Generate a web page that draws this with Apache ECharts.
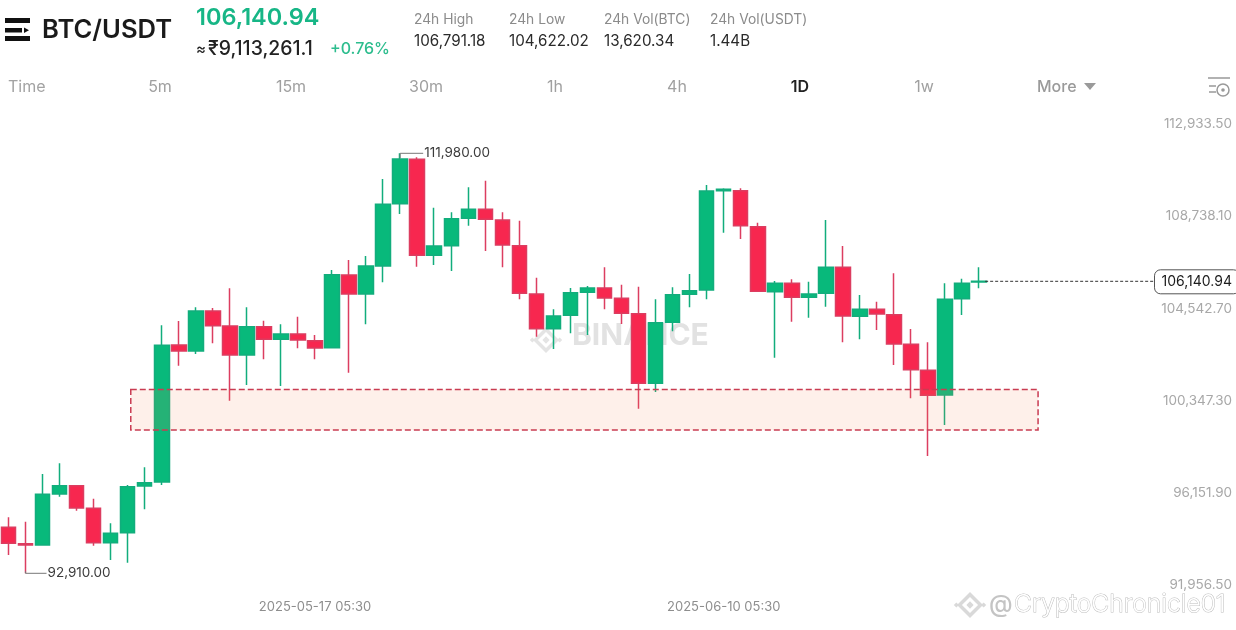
<!DOCTYPE html>
<html><head><meta charset="utf-8">
<script src="https://cdn.jsdelivr.net/npm/echarts@6/dist/echarts.min.js"></script>
<style>html,body{margin:0;padding:0;background:#fff}#c{width:1236px;height:630px}</style>
</head><body><div id="c"></div>
<script>
const days = ['2025-04-29','2025-04-30','2025-05-01','2025-05-02','2025-05-03','2025-05-04','2025-05-05','2025-05-06','2025-05-07','2025-05-08','2025-05-09','2025-05-10','2025-05-11','2025-05-12','2025-05-13','2025-05-14','2025-05-15','2025-05-16','2025-05-17','2025-05-18','2025-05-19','2025-05-20','2025-05-21','2025-05-22','2025-05-23','2025-05-24','2025-05-25','2025-05-26','2025-05-27','2025-05-28','2025-05-29','2025-05-30','2025-05-31','2025-06-01','2025-06-02','2025-06-03','2025-06-04','2025-06-05','2025-06-06','2025-06-07','2025-06-08','2025-06-09','2025-06-10','2025-06-11','2025-06-12','2025-06-13','2025-06-14','2025-06-15','2025-06-16','2025-06-17','2025-06-18','2025-06-19','2025-06-20','2025-06-21','2025-06-22','2025-06-23','2025-06-24','2025-06-25'];
const futureSlots = [' ',' ',' ',' ',' ',' ',' ',' ',' ',' ',' ',' ',' ',' '];
const dateLabelIndexes = [18, 42];
// [open, close, low, high]
const ohlc = [
[94596,93868,93336,95050],[93850,93791,92504,94850],[93791,96096,93791,97019],[96110,96487,95987,97506],
[96487,95473,95351,96519],[95460,93895,93759,95896],[93895,94323,93109,94778],[94350,96442,92986,96519],
[96474,96624,95414,97324],[96655,102871,96519,103781],[102885,102612,101944,103976],[102612,104431,102476,104599],
[104431,103762,102962,104567],[103749,102430,100352,105463],[102430,103717,101066,104599],[103717,103144,102235,103990],
[103144,103385,101021,103826],[103385,103112,102735,104172],[103080,102748,102235,103340],[102762,106081,102762,106295],
[106068,105204,101625,106750],[105204,106477,103826,106932],[106477,109282,105736,110433],[109310,111342,108841,111601],
[111329,106964,106445,111420],[106964,107386,106522,109128],[107400,108628,106250,108919],[108646,109055,108310,110055],
[109055,108600,107159,110356],[108569,107432,106418,108919],[107400,105236,104963,108537],[105204,103626,103262,105945],
[103626,104203,102703,104508],[104235,105263,103417,105477],[105281,105477,103340,105568],[105477,105022,104508,106418],
[105008,104326,103840,105627],[104308,101143,99989,105536],[101143,103899,100748,104963],[103917,105172,103508,105508],
[105190,105354,104599,106113],[105386,109887,104963,110160],[109901,109965,107991,110010],[109901,108310,107705,110010],
[108264,105327,105327,108446],[105308,105690,102307,105795],[105690,105054,103944,105872],[105054,105204,104126,105763],
[105236,106418,104626,108569],[106418,104203,103008,107386],[104190,104508,103144,105158],[104508,104294,103567,104854],
[104262,102930,101975,106145],[102916,101762,100461,103612],[101734,100598,97838,103008],[100611,104963,99247,105690],
[104990,105690,104249,105900],[105749,105781,105463,106418]
];
const yTicks = [91956.5, 96151.9, 100347.3, 104542.7, 108738.1, 112933.5];
const extremes = [[23, 111601], [1, 92504]];
const extremeLabels = ['111,980.00', '92,910.00'];
const extremeLeader = [23, 21];
const zone = [[7.18, 60.46, 100861, 99020]];
const lastPrice = [[57, 105781]];
const lastPriceLabel = '106,140.94';
const statLabels = ['24h High', '24h Low', '24h Vol(BTC)', '24h Vol(USDT)'];
const statValues = ['106,791.18', '104,622.02', '13,620.34', '1.44B'];
const tabs = ['5m', '15m', '30m', '1h', '4h', '1D', '1w'];

const FONT = 'Inter, "Noto Sans", sans-serif';
const RED = '#f7274f', GREEN = '#08b97b', WICK_R = '#dc3d60', WICK_G = '#12ad7c';
const chart = echarts.init(document.getElementById('c'), null, {renderer: 'canvas'});

function txt(x, y, text, size, fill, weight, align, extra) {
  return Object.assign({type: 'text', x, y, silent: true, style: {text, font: (weight || 400) + ' ' + size + 'px ' + FONT, fill, align: align || 'left', verticalAlign: 'middle'}}, extra || {});
}
function rect(x, y, w, h, fill) { return {type: 'rect', shape: {x, y, width: w, height: h}, style: {fill}, silent: true}; }
function poly(points, fill) { return {type: 'polygon', shape: {points}, style: {fill}, silent: true}; }
function diamond(cx, cy, r, fill) { return poly([[cx, cy - r], [cx + r, cy], [cx, cy + r], [cx - r, cy]], fill); }
function logo(cx, cy, s, fill) {
  const hole = '#fff';
  return [diamond(cx, cy, s, fill), diamond(cx, cy, s * 0.62, hole), diamond(cx, cy, s * 0.28, fill),
    diamond(cx - s * 1.05, cy, s * 0.2, fill), diamond(cx + s * 1.05, cy, s * 0.2, fill)];
}

const header = [
  rect(5, 18, 25, 5, '#111'), rect(5, 28, 17, 4.5, '#111'), rect(5, 36, 25, 5, '#111'),
  poly([[24, 27.5], [29, 30.2], [24, 33]], '#111'),
  txt(42, 30, 'BTC/USDT', 25.6, '#1a1a1a', 600),
  txt(196, 18, '106,140.94', 23.5, '#17b686', 600),
  txt(196, 49, '≈', 15, '#222', 500),
  txt(208, 49, '₹9,113,261.1', 19.4, '#222', 500),
  txt(330, 49, '+0.76%', 16, '#2dbd8e', 500),
  txt(8, 87, 'Time', 16, '#a3a3a3', 400),
  txt(1037, 87, 'More', 16, '#9a9a9a', 500),
  poly([[1084, 83], [1096, 83], [1090, 90]], '#9a9a9a'),
  {type: 'line', shape: {x1: 1208, y1: 78, x2: 1230, y2: 78}, style: {stroke: '#999', lineWidth: 1.5}, silent: true},
  {type: 'line', shape: {x1: 1209, y1: 86, x2: 1216, y2: 86}, style: {stroke: '#999', lineWidth: 1.5}, silent: true},
  {type: 'line', shape: {x1: 1209, y1: 92, x2: 1216, y2: 92}, style: {stroke: '#999', lineWidth: 1.5}, silent: true},
  {type: 'circle', shape: {cx: 1223, cy: 90, r: 6}, style: {fill: '#fff', stroke: '#999', lineWidth: 1.5}, silent: true},
  {type: 'circle', shape: {cx: 1223, cy: 90, r: 1.8}, style: {fill: '#999'}, silent: true}
];
const statX = [414, 509, 604, 710];
statLabels.forEach((t, i) => {
  header.push(txt(statX[i], 20, t, 13.8, '#8b8b8b', 400));
  header.push(txt(statX[i], 41, statValues[i], 15.2, '#2a2a2a', 400));
});
const tabX = [160, 291, 426, 555, 677, 800, 924];
tabs.forEach((t, i) => {
  const on = t === '1D';
  header.push(txt(tabX[i], 87, t, 16, on ? '#222' : '#a0a0a0', on ? 600 : 400, 'center'));
});
const watermarks = [
  ...logo(546, 340, 13, '#e4e4e4'),
  txt(572, 336, 'BINANCE', 30, '#e2e2e2', 700),
  ...logo(970, 605, 13, '#d9d9d9'),
  txt(989, 605, '@', 24, '#c4c4c4', 500),
  txt(1014, 605, 'CryptoChronicle01', 24.6, '#fff', 300, 'left', {style: {text: 'CryptoChronicle01', font: '300 24.6px ' + FONT, fill: '#fff', stroke: '#bdbdbd', lineWidth: 1, align: 'left', verticalAlign: 'middle'}})
];

chart.setOption({
  animation: false,
  backgroundColor: '#fff',
  textStyle: {fontFamily: FONT},
  graphic: {elements: [...watermarks, ...header].map(e => Object.assign({z: 0}, e))},
  grid: {left: -0.82, top: 100.55, width: 1226.88, height: 497.03},
  xAxis: {
    type: 'category',
    data: days.map(d => d + ' 05:30').concat(futureSlots),
    boundaryGap: true,
    axisLine: {show: false}, axisTick: {show: false}, splitLine: {show: false},
    axisLabel: {interval: (i) => dateLabelIndexes.includes(i), color: '#8e8e8e', fontSize: 13, margin: 3, hideOverlap: false}
  },
  yAxis: {
    type: 'value', position: 'right', min: 91400, max: 114000, scale: true,
    axisLine: {show: false}, axisTick: {show: false}, splitLine: {show: false},
    axisLabel: {
      inside: true, margin: -6, customValues: yTicks, color: '#a8a8a8', fontSize: 13.5, padding: [5, 0, 0, 0],
      formatter: v => v.toLocaleString('en-US', {minimumFractionDigits: 2, maximumFractionDigits: 2})
    }
  },
  series: [
    {
      type: 'candlestick', z: 3, data: ohlc, barWidth: 15,
      itemStyle: {color: GREEN, color0: RED, borderColor: WICK_G, borderColor0: WICK_R, borderWidth: 1.5}
    },
    {
      type: 'custom', z: 4, silent: true, data: zone, encode: {x: 0, y: 2},
      renderItem(params, api) {
        const from = api.value(0), to = api.value(1);
        const band = api.size([1, 0])[0];
        const a = api.coord([Math.floor(from), api.value(2)]);
        const b = api.coord([Math.floor(to), api.value(3)]);
        const x0 = a[0] + (from - Math.floor(from)) * band, x1 = b[0] + (to - Math.floor(to)) * band;
        return {type: 'rect', shape: {x: x0, y: a[1], width: x1 - x0, height: b[1] - a[1]},
          style: {fill: 'rgba(248,135,80,0.12)', stroke: '#c93c52', lineWidth: 1.5, lineDash: [6, 3]}};
      }
    },
    {
      type: 'custom', z: 5, silent: true, data: extremes, encode: {x: 0, y: 1},
      renderItem(params, api) {
        const i = params.dataIndex;
        const p = api.coord([api.value(0), api.value(1)]);
        const len = extremeLeader[i];
        return {type: 'group', children: [
          {type: 'polyline', shape: {points: [[p[0], p[1] + (i === 0 ? 5 : -2)], [p[0], p[1]], [p[0] + len, p[1]]]}, style: {stroke: '#777', lineWidth: 1, fill: 'none'}},
          {type: 'text', x: p[0] + len + 1, y: p[1], style: {text: extremeLabels[i], font: '400 13.5px ' + FONT, fill: '#3c3c3c', align: 'left', verticalAlign: 'middle'}}
        ]};
      }
    },
    {
      type: 'custom', z: 5, silent: true, data: lastPrice, encode: {x: 0, y: 1},
      renderItem(params, api) {
        const p = api.coord([api.value(0), api.value(1)]);
        return {type: 'group', children: [
          {type: 'line', shape: {x1: p[0] + 6, y1: p[1], x2: 1154, y2: p[1]}, style: {stroke: '#333', lineWidth: 1, lineDash: [3, 2]}},
          {type: 'rect', shape: {x: 1154.5, y: p[1] - 11.5, width: 85, height: 24, r: 6}, style: {fill: '#fff', stroke: '#555', lineWidth: 1}},
          {type: 'text', x: 1232, y: p[1] + 0.5, style: {text: lastPriceLabel, font: '400 14px ' + FONT, fill: '#1c1c1c', align: 'right', verticalAlign: 'middle'}}
        ]};
      }
    }
  ]
});
</script></body></html>
